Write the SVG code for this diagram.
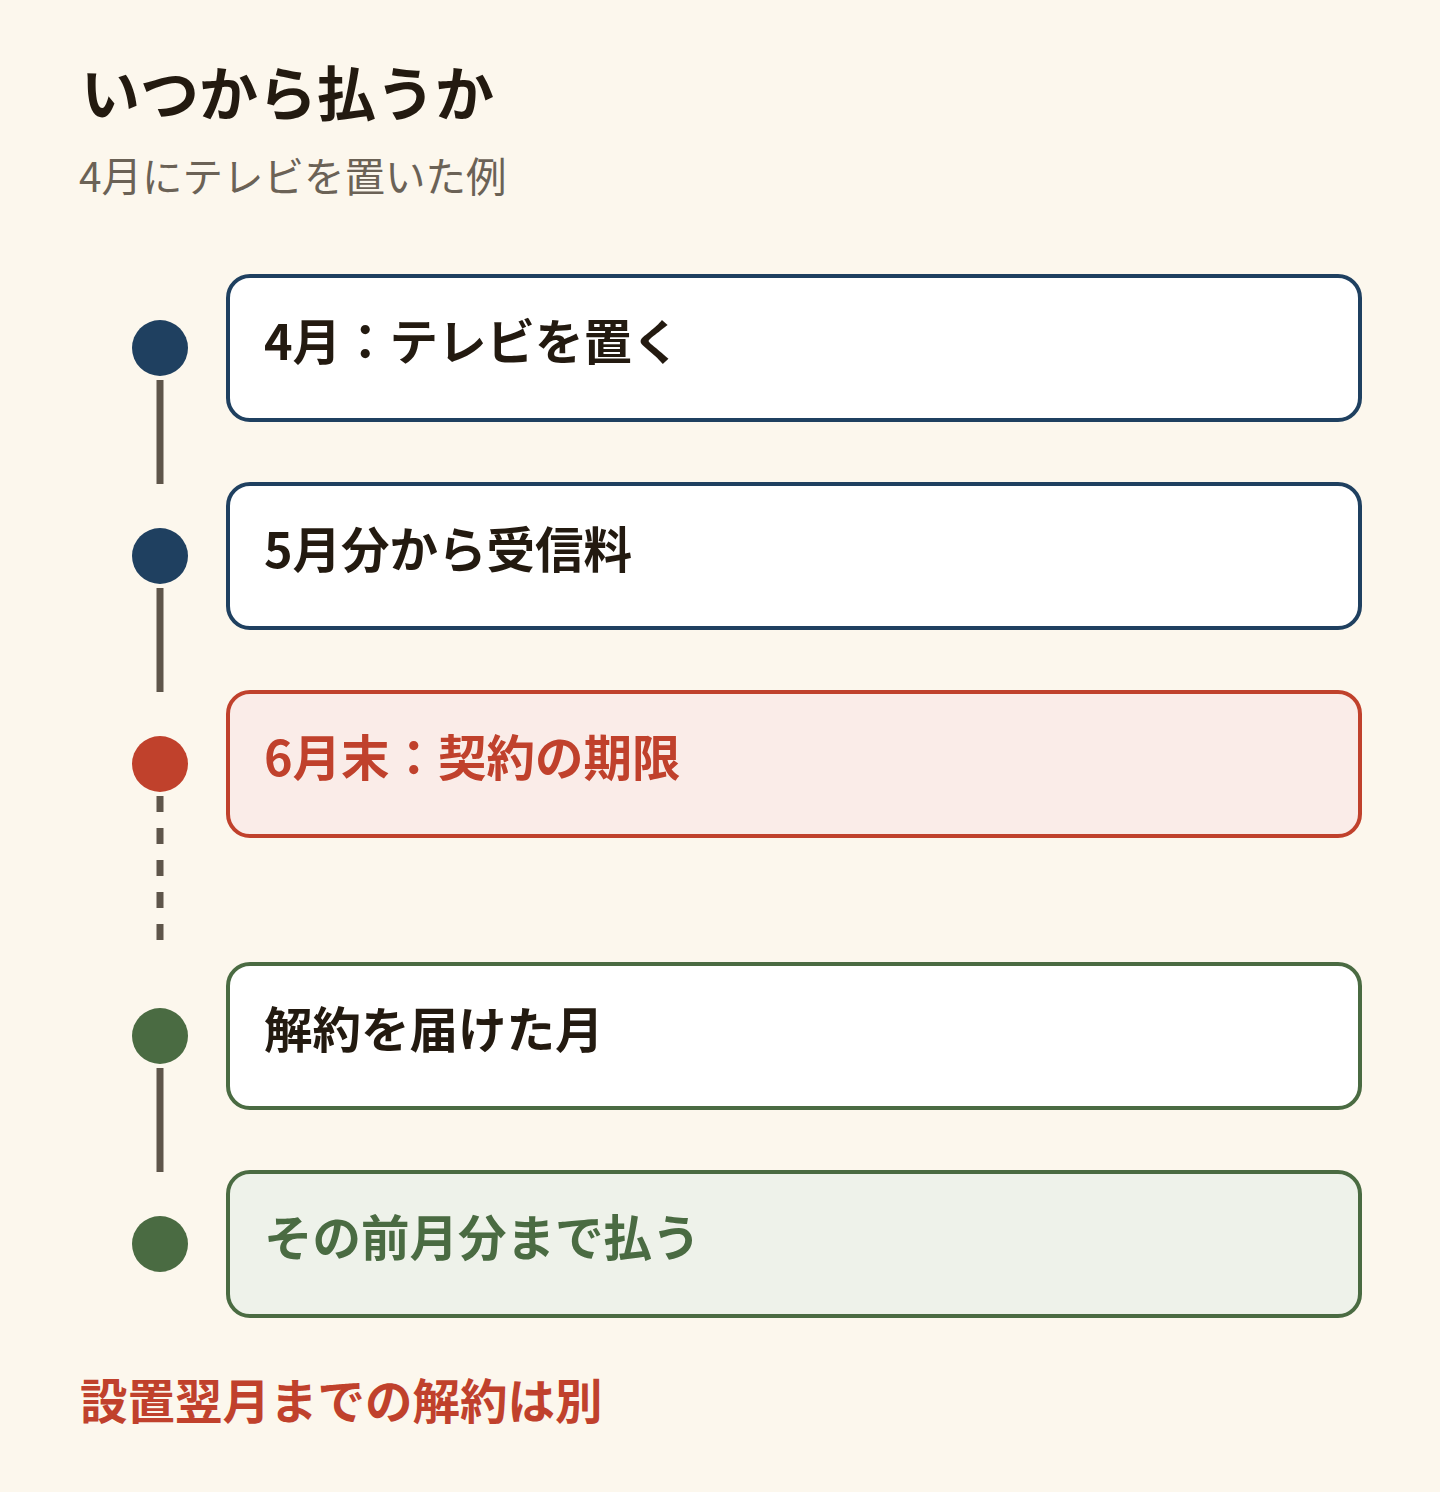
<svg xmlns="http://www.w3.org/2000/svg" width="1440" height="1492" viewBox="0 0 1440 1492">
<style>
text{font-family:"Noto Sans CJK JP","Noto Sans",sans-serif}
.title{font-size:59px;font-weight:700;fill:#231a10}
.sub{font-size:40.5px;font-weight:400;fill:#6b6256}
.lbl{font-size:48.5px;font-weight:700}
.foot{font-size:47.5px;font-weight:700;fill:#c0412c}
.box{stroke-width:4}
.navy{fill:#ffffff;stroke:#1f4060}
.red{fill:#faece8;stroke:#c0412c}
.greenw{fill:#ffffff;stroke:#4a6b42}
.greenf{fill:#eef2ea;stroke:#4a6b42}
.conn{stroke:#5e554a;stroke-width:7;fill:none}
</style>
<rect x="0" y="0" width="1440" height="1492" fill="#fcf7ed"/>
<text class="title" x="81" y="116">いつから払うか</text>
<text class="sub" x="79" y="192">4月にテレビを置いた例</text>
<g id="connectors">
<line class="conn" x1="160" y1="380" x2="160" y2="484"/>
<line class="conn" x1="160" y1="588" x2="160" y2="692"/>
<line class="conn" x1="160" y1="796" x2="160" y2="940" stroke-dasharray="16 16"/>
<line class="conn" x1="160" y1="1068" x2="160" y2="1172"/>
</g>
<g id="n1">
<circle cx="160" cy="348" r="28" fill="#1f4060"/>
<rect class="box navy" x="228" y="276" width="1132" height="144" rx="22"/>
<text class="lbl" x="264" y="360" fill="#231a10">4月：テレビを置く</text>
</g>
<g id="n2">
<circle cx="160" cy="556" r="28" fill="#1f4060"/>
<rect class="box navy" x="228" y="484" width="1132" height="144" rx="22"/>
<text class="lbl" x="264" y="568" fill="#231a10">5月分から受信料</text>
</g>
<g id="n3">
<circle cx="160" cy="764" r="28" fill="#c0412c"/>
<rect class="box red" x="228" y="692" width="1132" height="144" rx="22"/>
<text class="lbl" x="264" y="776" fill="#c0412c">6月末：契約の期限</text>
</g>
<g id="n4">
<circle cx="160" cy="1036" r="28" fill="#4a6b42"/>
<rect class="box greenw" x="228" y="964" width="1132" height="144" rx="22"/>
<text class="lbl" x="264" y="1048" fill="#231a10">解約を届けた月</text>
</g>
<g id="n5">
<circle cx="160" cy="1244" r="28" fill="#4a6b42"/>
<rect class="box greenf" x="228" y="1172" width="1132" height="144" rx="22"/>
<text class="lbl" x="264" y="1256" fill="#4a6b42">その前月分まで払う</text>
</g>
<text class="foot" x="80" y="1419">設置翌月までの解約は別</text>
</svg>
